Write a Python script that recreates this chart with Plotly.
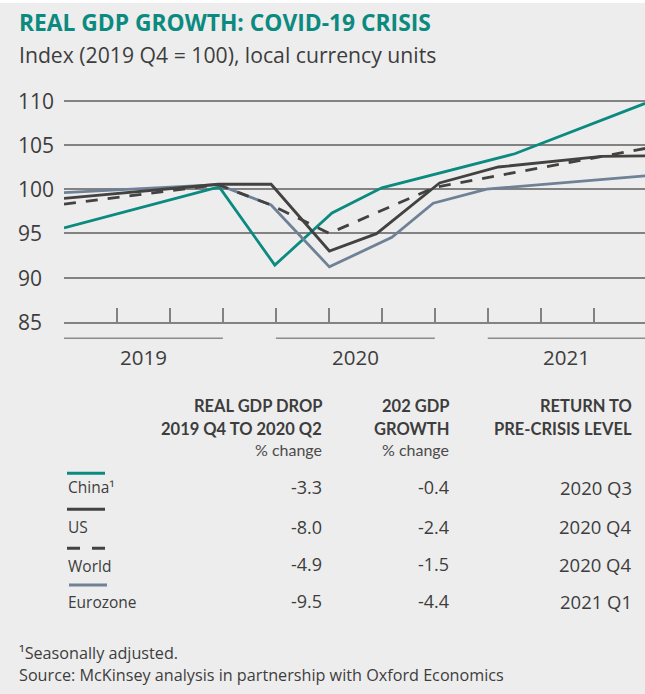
import plotly.graph_objects as go

# ---------------- data ----------------
# x positions are in quarters since 2019 Q1 (0 = 2019 Q1, 4 = 2020 Q1, 8 = 2021 Q1)
china_x = [0, 2.93, 3.98, 5.06, 6.0, 8.51, 10.97]
china_y = [95.6, 100.25, 91.4, 97.3, 100.15, 104.0, 109.7]

us_x = [0, 2.91, 3.91, 5.01, 5.90, 7.09, 8.2, 10.15, 10.97]
us_y = [98.95, 100.55, 100.55, 93.0, 94.96, 100.7, 102.5, 103.7, 103.75]

world_x = [0, 2.91, 3.91, 5.01, 7.0, 10.97]
world_y = [98.3, 100.5, 98.2, 95.0, 100.2, 104.6]

euro_x = [0, 2.91, 3.91, 5.01, 6.19, 6.97, 7.98, 10.97]
euro_y = [99.6, 100.5, 98.2, 91.2, 94.55, 98.4, 100.0, 101.5]

y_ticks = [85, 90, 95, 100, 105, 110]
quarter_ticks = list(range(0, 11))
years = ["2019", "2020", "2021"]
year_spans = [(0, 3), (4, 7), (8, 10.97)]

series_names = ["China¹", "US", "World", "Eurozone"]
gdp_drop = ["-3.3", "-8.0", "-4.9", "-9.5"]
gdp_growth = ["-0.4", "-2.4", "-1.5", "-4.4"]
return_level = ["2020 Q3", "2020 Q4", "2020 Q4", "2021 Q1"]

# ---------------- style ----------------
W, H = 645, 694
BG = "#ededed"
TEAL = "#0b8a80"
DARK = "#444241"
SLATE = "#6f8197"
TXT = "#3d3d3d"
GRID = "#828282"
BODY = "Open Sans"
HEAD = "Lato"

def X(px):
    return px / W

def Y(py):
    return (H - py) / H

fig = go.Figure()
fig.add_trace(go.Scatter(x=china_x, y=china_y, mode="lines", name="China",
                         line=dict(color=TEAL, width=2.8)))
fig.add_trace(go.Scatter(x=euro_x, y=euro_y, mode="lines", name="Eurozone",
                         line=dict(color=SLATE, width=2.8)))
fig.add_trace(go.Scatter(x=world_x, y=world_y, mode="lines", name="World",
                         line=dict(color=DARK, width=2.8, dash="12px,10px")))
fig.add_trace(go.Scatter(x=us_x, y=us_y, mode="lines", name="US",
                         line=dict(color=DARK, width=2.8)))

ann = []
shapes = []

# top white strip
shapes.append(dict(type="rect", xref="paper", yref="paper", x0=0, x1=1, y0=Y(3), y1=1,
                   fillcolor="white", line=dict(width=0), layer="below"))

# darker 95 gridline
shapes.append(dict(type="line", xref="paper", yref="y", x0=X(64), x1=1, y0=95, y1=95,
                   line=dict(color="#2e2e2e", width=1), layer="between"))

# y tick labels (left aligned)
for v in y_ticks:
    ann.append(dict(x=X(16), y=v, xref="paper", yref="y", text=str(v), showarrow=False,
                    xanchor="left", yanchor="middle", font=dict(size=21, color=TXT, family=BODY)))

# year bands
for (a, b), yr in zip(year_spans, years):
    shapes.append(dict(type="line", xref="x", yref="paper", x0=a, x1=b, y0=Y(338.3), y1=Y(338.3),
                       line=dict(color="#8c8c8c", width=1.5)))
    ann.append(dict(x=(a + b) / 2, y=Y(356.5), xref="x", yref="paper", text=yr, showarrow=False,
                    xanchor="center", yanchor="middle", font=dict(size=20.5, color=TXT, family=BODY)))

# title / subtitle
ann.append(dict(x=X(17), y=Y(22), xref="paper", yref="paper", showarrow=False,
                text="<b>REAL GDP GROWTH: COVID-19 CRISIS</b>", xanchor="left", yanchor="middle",
                font=dict(size=22.8, color=TEAL, family=BODY)))
ann.append(dict(x=X(17), y=Y(54), xref="paper", yref="paper", showarrow=False,
                text="Index (2019 Q4 = 100), local currency units", xanchor="left", yanchor="middle",
                font=dict(size=21.2, color=TXT, family=BODY)))

def txt(x, y, t, size=16, anchor="right", color=TXT, bold=False, family=BODY):
    ann.append(dict(x=X(x), y=Y(y), xref="paper", yref="paper", showarrow=False,
                    text=("<b>%s</b>" % t) if bold else t, xanchor=anchor, yanchor="middle",
                    font=dict(size=size, color=color, family=family)))

# table headers
txt(324, 406, "REAL GDP DROP", size=16.5, bold=True, family=HEAD)
txt(324, 429, "2019 Q4 TO 2020 Q2", size=16.5, bold=True, family=HEAD)
txt(324, 449, "% change", size=16, color="#4a4a4a", family=HEAD)
txt(451, 406, "202 GDP", size=16.5, bold=True, family=HEAD)
txt(451, 429, "GROWTH", size=16.5, bold=True, family=HEAD)
txt(451, 449, "% change", size=16, color="#4a4a4a", family=HEAD)
txt(634, 406, "RETURN TO", size=16.5, bold=True, family=HEAD)
txt(634, 429, "PRE-CRISIS LEVEL", size=16.5, bold=True, family=HEAD)

row_y = [487.5, 526.5, 565.5, 601.5]
val_y = [487.5, 526.5, 564, 601]
for i in range(4):
    txt(66, row_y[i], series_names[i], size=15.5, anchor="left")
    txt(324, val_y[i], gdp_drop[i], size=18)
    txt(451, val_y[i], gdp_growth[i], size=18)
    txt(634, val_y[i], return_level[i], size=18.5)

# legend swatches in table
legend_style = [(TEAL, "solid", 67, 105, 473.3), (DARK, "solid", 67, 105, 509.3),
                (DARK, "13px,12px", 67, 105, 548.3), (SLATE, "solid", 69, 107, 585)]
for col, dash, x0, x1, yy in legend_style:
    shapes.append(dict(type="line", xref="paper", yref="paper", x0=X(x0), x1=X(x1), y0=Y(yy), y1=Y(yy),
                       line=dict(color=col, width=3, dash=dash)))

# footer
txt(17, 653, "¹Seasonally adjusted.", size=16.2, anchor="left")
txt(17, 675, "Source: McKinsey analysis in partnership with Oxford Economics", size=16.2, anchor="left")

# plot-area geometry: y=85 at px 321.7, 8.84 px per unit, x quarter 52.97 px starting at px 64
y_bottom_px = 321.7
ppu = 8.84
y_top_val = 111
y_top_px = y_bottom_px - (y_top_val - 85) * ppu
x_max = (645 - 64) / 52.97

fig.update_layout(
    width=W, height=H,
    margin=dict(l=0, r=0, t=0, b=0),
    paper_bgcolor=BG, plot_bgcolor=BG,
    showlegend=False,
    font=dict(family=BODY, color=TXT),
    xaxis=dict(domain=[X(64), 1], range=[0, x_max], showgrid=False, zeroline=False,
               showline=True, linecolor=GRID, linewidth=1.5,
               ticks="inside", ticklen=14, tickwidth=1.5, tickcolor=GRID,
               tickvals=quarter_ticks, showticklabels=False, fixedrange=True),
    yaxis=dict(domain=[Y(y_bottom_px), Y(y_top_px)], range=[85, y_top_val],
               tickvals=[90, 95, 100, 105, 110], showgrid=True, gridcolor=GRID, gridwidth=1.5,
               zeroline=False, showline=False, showticklabels=False, ticks="", fixedrange=True),
    annotations=ann,
    shapes=shapes,
)

fig.write_html("out.html", config={"displayModeBar": False},
               post_script="document.body.style.margin='0';document.body.style.overflow='hidden';")
